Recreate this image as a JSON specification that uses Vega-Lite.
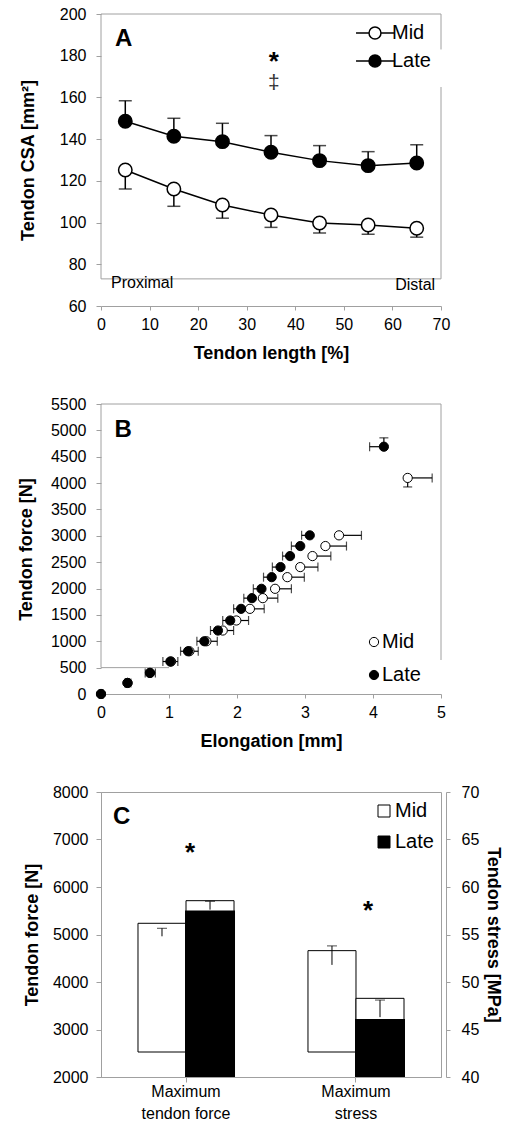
{
  "$schema": "https://vega.github.io/schema/vega-lite/v6.json",
  "padding": {"left": 17, "top": 6, "right": 0, "bottom": 0},
  "background": "white",
  "config": {
    "font": "Liberation Sans",
    "view": {"stroke": null},
    "axis": {"grid": false, "labelFontSize": 16, "labelColor": "#000", "titleFontSize": 18, "titleFontWeight": "bold", "titleColor": "#000", "domainColor": "#a0a0a0", "tickColor": "#a0a0a0", "labelFont": "Liberation Sans", "titleFont": "Liberation Sans"},
    "legend": {"labelFont": "Liberation Sans", "labelFontSize": 20, "labelColor": "#000", "title": null, "padding": 0}
  },
  "datasets": {
    "csa": [
      {"series": "Mid", "pos": 5, "mean": 125.2, "bar": 116.1},
      {"series": "Mid", "pos": 15, "mean": 116.1, "bar": 107.8},
      {"series": "Mid", "pos": 25, "mean": 108.4, "bar": 102.1},
      {"series": "Mid", "pos": 35, "mean": 103.6, "bar": 97.7},
      {"series": "Mid", "pos": 45, "mean": 99.8, "bar": 95.0},
      {"series": "Mid", "pos": 55, "mean": 98.8, "bar": 94.4},
      {"series": "Mid", "pos": 65, "mean": 97.3, "bar": 93.0},
      {"series": "Late", "pos": 5, "mean": 148.6, "bar": 158.4},
      {"series": "Late", "pos": 15, "mean": 141.4, "bar": 150.0},
      {"series": "Late", "pos": 25, "mean": 138.8, "bar": 147.6},
      {"series": "Late", "pos": 35, "mean": 133.7, "bar": 141.7},
      {"series": "Late", "pos": 45, "mean": 129.7, "bar": 136.9},
      {"series": "Late", "pos": 55, "mean": 127.3, "bar": 134.0},
      {"series": "Late", "pos": 65, "mean": 128.6, "bar": 137.3}
    ],
    "elong": [
      {"series": "Mid", "elong": 0, "force": 0, "xbar": 0.03},
      {"series": "Mid", "elong": 0.39, "force": 210, "xbar": 0.44},
      {"series": "Mid", "elong": 0.72, "force": 400, "xbar": 0.80},
      {"series": "Mid", "elong": 1.03, "force": 616, "xbar": 1.13},
      {"series": "Mid", "elong": 1.30, "force": 811, "xbar": 1.43},
      {"series": "Mid", "elong": 1.55, "force": 1000, "xbar": 1.71},
      {"series": "Mid", "elong": 1.79, "force": 1204, "xbar": 1.95},
      {"series": "Mid", "elong": 1.99, "force": 1394, "xbar": 2.17},
      {"series": "Mid", "elong": 2.19, "force": 1615, "xbar": 2.40},
      {"series": "Mid", "elong": 2.38, "force": 1818, "xbar": 2.60},
      {"series": "Mid", "elong": 2.56, "force": 1995, "xbar": 2.80},
      {"series": "Mid", "elong": 2.74, "force": 2216, "xbar": 2.99},
      {"series": "Mid", "elong": 2.93, "force": 2407, "xbar": 3.19},
      {"series": "Mid", "elong": 3.11, "force": 2616, "xbar": 3.38},
      {"series": "Mid", "elong": 3.30, "force": 2806, "xbar": 3.61},
      {"series": "Mid", "elong": 3.50, "force": 3009, "xbar": 3.83},
      {"series": "Mid", "elong": 4.51, "force": 4098, "xbar": 4.87, "ybar": 3927},
      {"series": "Late", "elong": 0, "force": 0, "xbar": 0},
      {"series": "Late", "elong": 0.39, "force": 210, "xbar": 0.35},
      {"series": "Late", "elong": 0.72, "force": 400, "xbar": 0.65},
      {"series": "Late", "elong": 1.02, "force": 616, "xbar": 0.91},
      {"series": "Late", "elong": 1.28, "force": 811, "xbar": 1.17},
      {"series": "Late", "elong": 1.52, "force": 1000, "xbar": 1.41},
      {"series": "Late", "elong": 1.72, "force": 1204, "xbar": 1.61},
      {"series": "Late", "elong": 1.90, "force": 1394, "xbar": 1.79},
      {"series": "Late", "elong": 2.06, "force": 1615, "xbar": 1.95},
      {"series": "Late", "elong": 2.22, "force": 1818, "xbar": 2.10},
      {"series": "Late", "elong": 2.36, "force": 1995, "xbar": 2.24},
      {"series": "Late", "elong": 2.51, "force": 2216, "xbar": 2.39},
      {"series": "Late", "elong": 2.64, "force": 2407, "xbar": 2.52},
      {"series": "Late", "elong": 2.78, "force": 2616, "xbar": 2.67},
      {"series": "Late", "elong": 2.93, "force": 2806, "xbar": 2.80},
      {"series": "Late", "elong": 3.07, "force": 3009, "xbar": 2.95},
      {"series": "Late", "elong": 4.16, "force": 4690, "xbar": 3.95, "ybar": 4858}
    ],
    "peak": [
      {"measure": "Maximum tendon force", "series": "Mid", "outline": 5236, "errHi": 5131, "errLo": 4962},
      {"measure": "Maximum tendon force", "series": "Late", "outline": 5712, "solid": 5503, "errHi": 5699, "errLo": 5523},
      {"measure": "Maximum stress", "series": "Mid", "outline": 53.3, "errHi": 53.8, "errLo": 51.8},
      {"measure": "Maximum stress", "series": "Late", "outline": 48.28, "solid": 46.1, "errHi": 48.1, "errLo": 46.3}
    ]
  },
  "spacing": 98,
  "bounds": "flush",
  "resolve": {"scale": {"fill": "independent"}, "legend": {"fill": "independent"}},
  "vconcat": [
    {
      "width": 340,
      "height": 292,
      "layer": [
        {
          "data": {"name": "csa"},
          "mark": {"type": "rule", "color": "#000", "strokeWidth": 1.5},
          "encoding": {
            "x": {"field": "pos", "type": "quantitative", "title": "Tendon length [%]", "scale": {"domain": [0, 70], "nice": false},
              "axis": {"values": [0, 10, 20, 30, 40, 50, 60, 70], "format": "d", "labelFlush": false, "tickSize": 4, "labelPadding": 6, "titlePadding": 12}},
            "y": {"field": "mean", "type": "quantitative", "title": "Tendon CSA [mm²]", "scale": {"domain": [60, 200], "nice": false, "zero": false},
              "axis": {"values": [60, 80, 100, 120, 140, 160, 180, 200], "format": "d", "domain": false, "tickSize": 5, "labelPadding": 10, "titlePadding": 22}},
            "y2": {"field": "bar"}
          }
        },
        {"data": {"values": [{}]}, "mark": {"type": "rule", "color": "#a0a0a0"}, "encoding": {"y": {"datum": 200}}},
        {"data": {"values": [{}]}, "mark": {"type": "rule", "color": "#a0a0a0"}, "encoding": {"y": {"datum": 73}}},
        {"data": {"values": [{}]}, "mark": {"type": "rule", "color": "#a0a0a0"}, "encoding": {"x": {"datum": 0}, "y": {"datum": 200}, "y2": {"datum": 73}}},
        {"data": {"values": [{}]}, "mark": {"type": "rule", "color": "#a0a0a0"}, "encoding": {"x": {"datum": 70}, "y": {"datum": 200}, "y2": {"datum": 183}}},
        {"data": {"values": [{}]}, "mark": {"type": "rule", "color": "#a0a0a0"}, "encoding": {"x": {"datum": 70}, "y": {"datum": 165}, "y2": {"datum": 73}}},
        {
          "data": {"name": "csa"},
          "mark": {"type": "tick", "orient": "horizontal", "size": 13, "thickness": 1.5, "color": "#000"},
          "encoding": {
            "x": {"field": "pos", "type": "quantitative", "title": "Tendon length [%]"},
            "y": {"field": "bar", "type": "quantitative", "title": "Tendon CSA [mm²]"}
          }
        },
        {
          "data": {"name": "csa"},
          "mark": {"type": "line", "color": "#000", "strokeWidth": 1.5},
          "encoding": {
            "x": {"field": "pos", "type": "quantitative", "title": "Tendon length [%]"},
            "y": {"field": "mean", "type": "quantitative", "title": "Tendon CSA [mm²]"},
            "detail": {"field": "series"}
          }
        },
        {
          "data": {"name": "csa"},
          "mark": {"type": "point", "filled": true, "size": 180, "stroke": "#000", "strokeWidth": 1.5, "opacity": 1},
          "encoding": {
            "x": {"field": "pos", "type": "quantitative", "title": "Tendon length [%]"},
            "y": {"field": "mean", "type": "quantitative", "title": "Tendon CSA [mm²]"},
            "fill": {"field": "series", "type": "nominal", "scale": {"domain": ["Mid", "Late"], "range": ["#ffffff", "#000000"]},
              "legend": {"orient": "none", "legendX": 260, "legendY": 5, "symbolType": "M-1.46,0L-0.46,0M0.46,0L1.46,0M-0.46,0A0.46,0.46,0,1,1,0.46,0A0.46,0.46,0,1,1,-0.46,0Z", "symbolSize": 676, "symbolStrokeColor": "#000", "symbolStrokeWidth": 1.5, "labelOffset": 3, "rowPadding": 4}}
          }
        },
        {
          "data": {"values": [{"t": "A", "pos": 2.88, "mean": 184.6}]},
          "mark": {"type": "text", "fontSize": 24, "fontWeight": "bold", "align": "left", "baseline": "alphabetic", "color": "#000"},
          "encoding": {"x": {"field": "pos", "type": "quantitative"}, "y": {"field": "mean", "type": "quantitative"}, "text": {"field": "t"}}
        },
        {
          "data": {"values": [{"t": "*", "pos": 35.6, "mean": 173.2}]},
          "mark": {"type": "text", "fontSize": 26, "fontWeight": "bold", "align": "center", "baseline": "alphabetic", "color": "#000"},
          "encoding": {"x": {"field": "pos", "type": "quantitative"}, "y": {"field": "mean", "type": "quantitative"}, "text": {"field": "t"}}
        },
        {
          "data": {"values": [{"t": "‡", "pos": 35.6, "mean": 164.2}]},
          "mark": {"type": "text", "fontSize": 21, "align": "center", "baseline": "alphabetic", "color": "#333333"},
          "encoding": {"x": {"field": "pos", "type": "quantitative"}, "y": {"field": "mean", "type": "quantitative"}, "text": {"field": "t"}}
        },
        {
          "data": {"values": [{"t": "Proximal", "pos": 2.06, "mean": 68.5}]},
          "mark": {"type": "text", "fontSize": 16, "align": "left", "baseline": "alphabetic", "color": "#000"},
          "encoding": {"x": {"field": "pos", "type": "quantitative"}, "y": {"field": "mean", "type": "quantitative"}, "text": {"field": "t"}}
        },
        {
          "data": {"values": [{"t": "Distal", "pos": 68.8, "mean": 67.8}]},
          "mark": {"type": "text", "fontSize": 16, "align": "right", "baseline": "alphabetic", "color": "#000"},
          "encoding": {"x": {"field": "pos", "type": "quantitative"}, "y": {"field": "mean", "type": "quantitative"}, "text": {"field": "t"}}
        }
      ]
    },
    {
      "width": 340,
      "height": 290,
      "layer": [
        {
          "data": {"name": "elong"},
          "mark": {"type": "rule", "color": "#000", "strokeWidth": 1.2},
          "encoding": {
            "x": {"field": "elong", "type": "quantitative", "title": "Elongation [mm]", "scale": {"domain": [0, 5], "nice": false},
              "axis": {"values": [0, 1, 2, 3, 4, 5], "format": "d", "labelFlush": false, "tickSize": 4, "labelPadding": 6, "titlePadding": 12}},
            "x2": {"field": "xbar"},
            "y": {"field": "force", "type": "quantitative", "title": "Tendon force [N]", "scale": {"domain": [0, 5500], "nice": false},
              "axis": {"values": [0, 500, 1000, 1500, 2000, 2500, 3000, 3500, 4000, 4500, 5000, 5500], "tickCount": 12, "format": "d", "labelOverlap": false, "domain": false, "tickSize": 5, "labelPadding": 10, "titlePadding": 15}}
          }
        },
        {"data": {"values": [{}]}, "mark": {"type": "rule", "color": "#a0a0a0"}, "encoding": {"y": {"datum": 5500}}},
        {"data": {"values": [{}]}, "mark": {"type": "rule", "color": "#a0a0a0"}, "encoding": {"x": {"datum": 5}, "y": {"datum": 5500}, "y2": {"datum": 645}}},
        {"data": {"values": [{}]}, "mark": {"type": "rule", "color": "#a0a0a0"}, "encoding": {"x": {"datum": 0}, "x2": {"datum": 1.0}, "y": {"datum": 500}}},
        {"data": {"values": [{}]}, "mark": {"type": "rule", "color": "#a0a0a0"}, "encoding": {"x": {"datum": 0}, "y": {"datum": 5500}, "y2": {"datum": 500}}},
        {
          "data": {"name": "elong"},
          "mark": {"type": "tick", "orient": "vertical", "size": 9, "thickness": 1.2, "color": "#000"},
          "encoding": {
            "x": {"field": "xbar", "type": "quantitative", "title": "Elongation [mm]"},
            "y": {"field": "force", "type": "quantitative", "title": "Tendon force [N]"}
          }
        },
        {
          "data": {"name": "elong"},
          "transform": [{"filter": "isValid(datum.ybar)"}],
          "mark": {"type": "rule", "color": "#000", "strokeWidth": 1.2},
          "encoding": {
            "x": {"field": "elong", "type": "quantitative", "title": "Elongation [mm]"},
            "y": {"field": "force", "type": "quantitative", "title": "Tendon force [N]"},
            "y2": {"field": "ybar"}
          }
        },
        {
          "data": {"name": "elong"},
          "transform": [{"filter": "isValid(datum.ybar)"}],
          "mark": {"type": "tick", "orient": "horizontal", "size": 9, "thickness": 1.2, "color": "#000"},
          "encoding": {
            "x": {"field": "elong", "type": "quantitative", "title": "Elongation [mm]"},
            "y": {"field": "ybar", "type": "quantitative", "title": "Tendon force [N]"}
          }
        },
        {
          "data": {"name": "elong"},
          "mark": {"type": "point", "filled": true, "size": 85, "stroke": "#000", "strokeWidth": 1, "opacity": 1},
          "encoding": {
            "x": {"field": "elong", "type": "quantitative", "title": "Elongation [mm]"},
            "y": {"field": "force", "type": "quantitative", "title": "Tendon force [N]"},
            "fill": {"field": "series", "type": "nominal", "scale": {"domain": ["Mid", "Late"], "range": ["#ffffff", "#000000"]},
              "legend": {"orient": "none", "legendX": 263, "legendY": 228, "symbolType": "circle", "symbolSize": 85, "symbolStrokeColor": "#000", "symbolStrokeWidth": 1, "labelOffset": -2, "rowPadding": 13}}
          }
        },
        {
          "data": {"values": [{"t": "B", "elong": 0.2, "force": 4874}]},
          "mark": {"type": "text", "fontSize": 24, "fontWeight": "bold", "align": "left", "baseline": "alphabetic", "color": "#000"},
          "encoding": {"x": {"field": "elong", "type": "quantitative"}, "y": {"field": "force", "type": "quantitative"}, "text": {"field": "t"}}
        }
      ]
    },
    {
      "width": 340,
      "height": 285,
      "view": {"stroke": "#a0a0a0"},
      "data": {"name": "peak"},
      "resolve": {"scale": {"y": "independent"}, "axis": {"y": "independent"}},
      "layer": [
        {
          "transform": [{"filter": "datum.measure == 'Maximum tendon force'"}],
          "layer": [
            {
              "mark": {"type": "bar", "fill": "#ffffff", "stroke": "#000", "strokeWidth": 1},
              "encoding": {
                "x": {"field": "measure", "type": "nominal", "title": null, "scale": {"domain": ["Maximum tendon force", "Maximum stress"], "paddingInner": 0.435, "paddingOuter": 0.2176},
                  "axis": {"labelAngle": 0, "tickSize": 5, "labelPadding": 1, "labelLineHeight": 22, "labelExpr": "datum.value == 'Maximum stress' ? ['Maximum', 'stress'] : ['Maximum', 'tendon force']"}},
                "xOffset": {"field": "series", "type": "nominal", "scale": {"domain": ["Mid", "Late"], "paddingInner": 0, "paddingOuter": 0}},
                "y": {"field": "outline", "type": "quantitative", "title": "Tendon force [N]", "scale": {"domain": [2000, 8000], "nice": false, "zero": false},
                  "axis": {"orient": "left", "values": [2000, 3000, 4000, 5000, 6000, 7000, 8000], "format": "d", "tickSize": 5, "labelPadding": 8, "titlePadding": 11}},
                "y2": {"datum": 2526}
              }
            },
            {
              "transform": [{"filter": "datum.series == 'Late'"}],
              "mark": {"type": "bar", "width": 50, "xOffset": 1, "strokeWidth": 0},
              "encoding": {
                "x": {"field": "measure", "type": "nominal", "title": null},
                "xOffset": {"field": "series", "type": "nominal"},
                "y": {"field": "solid", "type": "quantitative", "title": "Tendon force [N]"},
                "y2": {"datum": 2000},
                "fill": {"field": "series", "type": "nominal", "scale": {"domain": ["Mid", "Late"], "range": ["#ffffff", "#000000"]},
                  "legend": {"orient": "none", "legendX": 273, "legendY": 9, "symbolType": "square", "symbolSize": 144, "symbolStrokeColor": "#000", "symbolStrokeWidth": 1, "labelOffset": 1, "rowPadding": 11, "fillColor": "#ffffff"}}
              }
            },
            {
              "mark": {"type": "rule", "color": "#000", "strokeWidth": 1},
              "encoding": {
                "x": {"field": "measure", "type": "nominal", "title": null},
                "xOffset": {"field": "series", "type": "nominal"},
                "y": {"field": "errHi", "type": "quantitative", "title": "Tendon force [N]"},
                "y2": {"field": "errLo"}
              }
            },
            {
              "mark": {"type": "tick", "orient": "horizontal", "size": 10, "thickness": 1, "color": "#000"},
              "encoding": {
                "x": {"field": "measure", "type": "nominal", "title": null},
                "xOffset": {"field": "series", "type": "nominal"},
                "y": {"field": "errHi", "type": "quantitative", "title": "Tendon force [N]"}
              }
            },
            {
              "data": {"values": [{"measure": "Maximum tendon force", "v": 6547, "t": "*"}]},
              "mark": {"type": "text", "fontSize": 26, "fontWeight": "bold", "align": "center", "baseline": "alphabetic", "dx": 4, "color": "#000"},
              "encoding": {"x": {"field": "measure", "type": "nominal", "title": null}, "y": {"field": "v", "type": "quantitative", "title": "Tendon force [N]"}, "text": {"field": "t"}}
            },
            {
              "data": {"values": [{"measure": "Maximum tendon force", "v": 7326, "t": "C"}]},
              "mark": {"type": "text", "fontSize": 24, "fontWeight": "bold", "align": "left", "baseline": "alphabetic", "dx": -73, "color": "#000"},
              "encoding": {"x": {"field": "measure", "type": "nominal", "title": null}, "y": {"field": "v", "type": "quantitative", "title": "Tendon force [N]"}, "text": {"field": "t"}}
            }
          ]
        },
        {
          "transform": [{"filter": "datum.measure == 'Maximum stress'"}],
          "layer": [
            {
              "mark": {"type": "bar", "fill": "#ffffff", "stroke": "#000", "strokeWidth": 1},
              "encoding": {
                "x": {"field": "measure", "type": "nominal", "title": null},
                "xOffset": {"field": "series", "type": "nominal"},
                "y": {"field": "outline", "type": "quantitative", "title": "Tendon stress [MPa]", "scale": {"domain": [40, 70], "nice": false, "zero": false},
                  "axis": {"orient": "right", "offset": 5, "values": [40, 45, 50, 55, 60, 65, 70], "format": "d", "tickSize": 4, "labelPadding": 11, "titlePadding": 5}},
                "y2": {"datum": 42.63}
              }
            },
            {
              "transform": [{"filter": "datum.series == 'Late'"}],
              "mark": {"type": "bar", "width": 50, "xOffset": 5, "fill": "#000", "strokeWidth": 0},
              "encoding": {
                "x": {"field": "measure", "type": "nominal", "title": null},
                "xOffset": {"field": "series", "type": "nominal"},
                "y": {"field": "solid", "type": "quantitative", "title": "Tendon stress [MPa]"},
                "y2": {"datum": 40}
              }
            },
            {
              "mark": {"type": "rule", "color": "#000", "strokeWidth": 1},
              "encoding": {
                "x": {"field": "measure", "type": "nominal", "title": null},
                "xOffset": {"field": "series", "type": "nominal"},
                "y": {"field": "errHi", "type": "quantitative", "title": "Tendon stress [MPa]"},
                "y2": {"field": "errLo"}
              }
            },
            {
              "mark": {"type": "tick", "orient": "horizontal", "size": 10, "thickness": 1, "color": "#000"},
              "encoding": {
                "x": {"field": "measure", "type": "nominal", "title": null},
                "xOffset": {"field": "series", "type": "nominal"},
                "y": {"field": "errHi", "type": "quantitative", "title": "Tendon stress [MPa]"}
              }
            },
            {
              "data": {"values": [{"measure": "Maximum stress", "v": 56.6, "t": "*"}]},
              "mark": {"type": "text", "fontSize": 26, "fontWeight": "bold", "align": "center", "baseline": "alphabetic", "dx": 12, "color": "#000"},
              "encoding": {"x": {"field": "measure", "type": "nominal", "title": null}, "y": {"field": "v", "type": "quantitative", "title": "Tendon stress [MPa]"}, "text": {"field": "t"}}
            }
          ]
        }
      ]
    }
  ]
}
